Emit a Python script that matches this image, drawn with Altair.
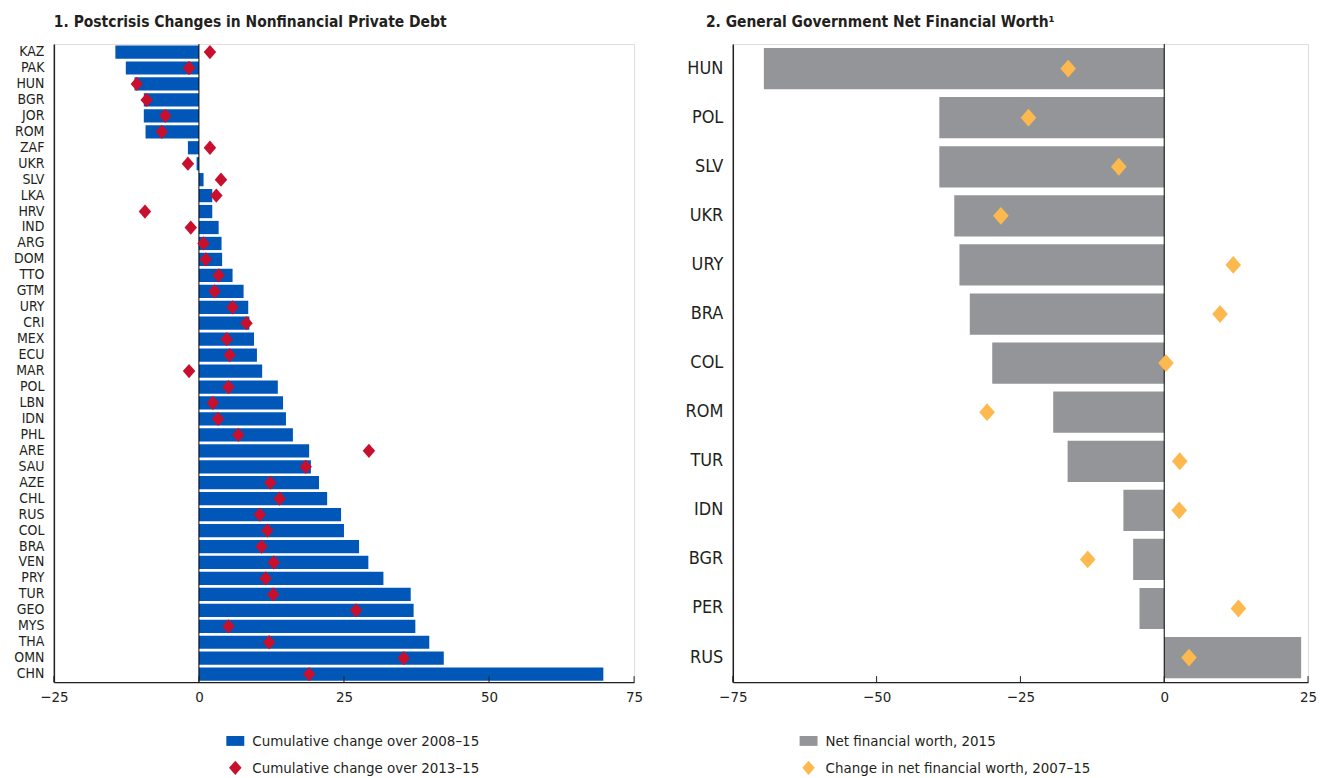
import altair as alt
import pandas as pd

# ---------------- data ----------------
left_countries = ["KAZ", "PAK", "HUN", "BGR", "JOR", "ROM", "ZAF", "UKR", "SLV", "LKA",
                  "HRV", "IND", "ARG", "DOM", "TTO", "GTM", "URY", "CRI", "MEX", "ECU",
                  "MAR", "POL", "LBN", "IDN", "PHL", "ARE", "SAU", "AZE", "CHL", "RUS",
                  "COL", "BRA", "VEN", "PRY", "TUR", "GEO", "MYS", "THA", "OMN", "CHN"]
change_2008_15 = [-14.4, -12.6, -11.1, -9.5, -9.5, -9.2, -1.9, -0.4, 0.8, 2.3,
                  2.3, 3.4, 3.9, 4.0, 5.8, 7.7, 8.5, 8.7, 9.5, 10.0,
                  10.9, 13.6, 14.5, 15.0, 16.2, 19.0, 19.3, 20.7, 22.1, 24.5,
                  25.0, 27.6, 29.2, 31.8, 36.5, 37.0, 37.3, 39.7, 42.2, 69.7]
change_2013_15 = [1.9, -1.7, -10.7, -9.0, -5.8, -6.4, 1.9, -1.9, 3.8, 3.0,
                  -9.3, -1.4, 0.8, 1.2, 3.4, 2.7, 5.8, 8.2, 4.8, 5.3,
                  -1.7, 5.1, 2.4, 3.3, 6.8, 29.3, 18.4, 12.3, 13.9, 10.5,
                  11.8, 10.8, 12.9, 11.5, 12.8, 27.1, 5.1, 12.1, 35.3, 19.0]
left_ticks = [-25, 0, 25, 50, 75]

right_countries = ["HUN", "POL", "SLV", "UKR", "URY", "BRA", "COL", "ROM", "TUR", "IDN",
                   "BGR", "PER", "RUS"]
nfw_2015 = [-69.6, -39.1, -39.1, -36.5, -35.6, -33.8, -29.9, -19.3, -16.8, -7.1,
            -5.4, -4.3, 23.8]
nfw_change_2007_15 = [-16.7, -23.6, -7.9, -28.4, 12.0, 9.7, 0.3, -30.8, 2.7, 2.6,
                      -13.3, 12.9, 4.3]
right_ticks = [-75, -50, -25, 0, 25]

L1 = "Cumulative change over 2008–15"
L2 = "Cumulative change over 2013–15"
R1 = "Net financial worth, 2015"
R2 = "Change in net financial worth, 2007–15"

title_left = "1. Postcrisis Changes in Nonfinancial Private Debt"
title_right = "2. General Government Net Financial Worth¹"

# ---------------- styling ----------------
FONT = "Liberation Sans Narrow, Arial Narrow, DejaVu Sans Condensed, sans-serif"
INK = "#231F20"
BLUE = "#0057B8"
RED = "#C8102E"
GREY = "#939598"
ORANGE = "#FDB94E"
W1, W2, H = 582, 577, 640
RECT = "M-1,-0.55L1,-0.55L1,0.55L-1,0.55Z"
DIAM = "M0,-0.8L0.7,0L0,0.8L-0.7,0Z"


def panel(countries, bar_vals, pt_vals, ticks, s1, s2, bar_color, pt_color,
          width, title, title_dx, label_size, band_pad, pt_size, legend_x):
    bars_df = pd.DataFrame({"country": countries, "value": bar_vals, "series": s1})
    pts_df = pd.DataFrame({"country": countries, "value": pt_vals, "series": s2})
    ticks_df = pd.DataFrame({"t": ticks})
    zero_df = pd.DataFrame({"z": [0]})

    xscale = alt.Scale(domain=[ticks[0], ticks[-1]], nice=False, zero=False)
    xaxis = alt.Axis(values=ticks, grid=False, ticks=False, labelFont=FONT,
                     labelFontSize=15, labelColor=INK, labelPadding=7,
                     labelFlush=False, domainColor=INK, domainWidth=1.5, format="d")
    y = alt.Y("country:N", sort=countries, title=None,
              scale=alt.Scale(paddingInner=band_pad, paddingOuter=band_pad / 2),
              axis=alt.Axis(labelFont=FONT, labelFontSize=label_size, labelColor=INK,
                            ticks=False, domainColor=INK, domainWidth=1.5,
                            labelPadding=10))
    legend = alt.Legend(title=None, orient="none", legendX=legend_x, legendY=H + 50,
                        direction="vertical", labelFont=FONT, labelFontSize=15,
                        labelColor=INK, symbolSize=324, rowPadding=10, labelOffset=8,
                        symbolStrokeWidth=0, padding=0, labelLimit=0)
    color = alt.Color("series:N", scale=alt.Scale(domain=[s1, s2], range=[bar_color, pt_color]),
                      legend=legend)
    shape = alt.Shape("series:N", scale=alt.Scale(domain=[s1, s2], range=[RECT, DIAM]),
                      legend=legend)

    bars = alt.Chart(bars_df).mark_bar().encode(
        x=alt.X("value:Q", scale=xscale, axis=xaxis, title=None),
        y=y, color=color)
    zero = alt.Chart(zero_df).mark_rule(color="#000000", strokeWidth=1).encode(
        x=alt.X("z:Q"))
    pts = alt.Chart(pts_df).mark_point(filled=True, opacity=1, size=pt_size).encode(
        x=alt.X("value:Q"), y=y, color=color, shape=shape)
    tk = alt.Chart(ticks_df).mark_rule(color=INK, strokeWidth=1).encode(
        x=alt.X("t:Q"), y=alt.value(H - 6), y2=alt.value(H))

    return alt.layer(bars, zero, pts, tk).properties(
        width=width, height=H,
        title=alt.TitleParams(title, anchor="start", frame="group", font=FONT,
                              fontSize=15.5, fontWeight="bold", color=INK,
                              offset=13, dx=title_dx))


left = panel(left_countries, change_2008_15, change_2013_15, left_ticks, L1, L2,
             BLUE, RED, W1, title_left, 0, 14, 0.17, 320, 173)
right = panel(right_countries, nfw_2015, nfw_change_2007_15, right_ticks, R1, R2,
              GREY, ORANGE, W2, title_right, -27, 18, 0.16, 500, 67)

chart = alt.hconcat(left, right, spacing=40).resolve_scale(
    x="independent", y="independent", color="independent", shape="independent"
).resolve_legend(color="independent", shape="independent").configure_view(
    stroke=None
).configure(background="white")

chart.save("out.html", embed_options={"renderer": "svg", "actions": False})
